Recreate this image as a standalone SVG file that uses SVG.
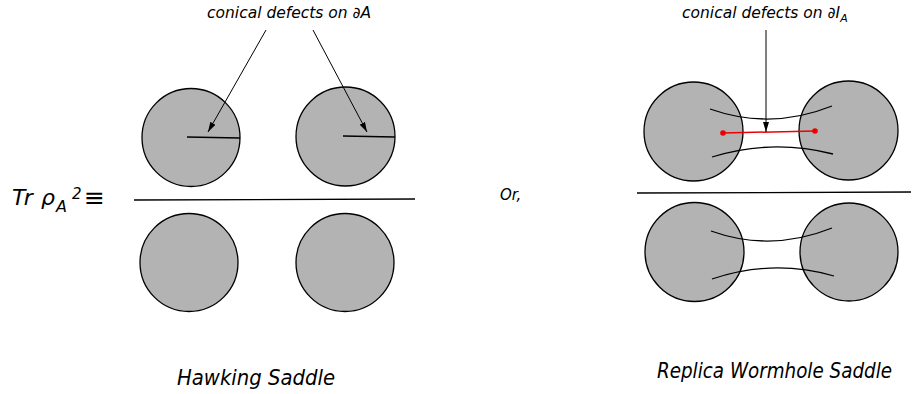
<svg xmlns="http://www.w3.org/2000/svg" width="912" height="394" viewBox="0 0 912 394">
<style>
.disk{fill:#b3b3b3;stroke:#000;stroke-width:1.3}
.ln{fill:none;stroke:#000;stroke-width:1.3}
.t{font-family:"DejaVu Sans","Verdana",sans-serif;font-style:italic;fill:#000}
.c{font-family:"DejaVu Sans Condensed","DejaVu Sans",sans-serif;font-stretch:condensed}
.arr{fill:none;stroke:#000;stroke-width:1;marker-end:url(#ah)}
</style>
<defs>
<marker id="ah" viewBox="0 0 10 6" refX="10" refY="3" markerWidth="10" markerHeight="6" markerUnits="userSpaceOnUse" orient="auto">
<path d="M0,0 L10,3 L0,6 Z" fill="#000"/>
</marker>
</defs>
<rect width="912" height="394" fill="#fff"/>

<g id="label-tr">
<text class="t" x="12" y="205" font-size="22">Tr <tspan x="41">ρ</tspan><tspan x="56" y="212" font-size="16">A</tspan><tspan x="72" y="199" font-size="15">2</tspan><tspan x="84" y="206" font-size="25" font-style="normal">≡</tspan></text>
</g>

<g id="hawking-top-left">
<circle class="disk" cx="191" cy="137.5" r="49"/>
<line class="ln" x1="187" y1="137" x2="240" y2="138"/>
</g>
<g id="hawking-top-right">
<circle class="disk" cx="345.5" cy="136.5" r="49.5"/>
<line class="ln" x1="343" y1="136" x2="395" y2="137"/>
</g>
<g id="hawking-bottom-left">
<circle class="disk" cx="189" cy="262.5" r="49"/>
</g>
<g id="hawking-bottom-right">
<circle class="disk" cx="345" cy="262.5" r="49"/>
</g>
<g id="hawking-divider">
<line class="ln" x1="134" y1="200" x2="415" y2="199"/>
</g>
<g id="label-hawking-defects">
<text class="t" x="207" y="18" font-size="15.5">conical defects on ∂A</text>
</g>
<g id="label-hawking">
<text class="t c" x="177" y="385" font-size="22" textLength="158" lengthAdjust="spacingAndGlyphs">Hawking Saddle</text>
</g>

<g id="label-or">
<text class="t" x="500" y="200" font-size="15">Or,</text>
</g>

<g id="replica-top">
<circle class="disk" cx="693.5" cy="131.5" r="49.5"/>
<circle class="disk" cx="848.5" cy="130.5" r="49.5"/>
<path class="ln" d="M710,109 Q771,130.5 832,106"/>
<path class="ln" d="M712,157 Q772,138.5 833,154"/>
<line x1="723" y1="133" x2="815" y2="131" stroke="#e00" stroke-width="1.5"/>
<circle cx="723" cy="133" r="2.8" fill="#e00"/>
<circle cx="815" cy="131" r="2.8" fill="#e00"/>
</g>
<g id="replica-divider">
<line class="ln" x1="637" y1="193" x2="911" y2="192"/>
</g>
<g id="replica-bottom">
<circle class="disk" cx="694.5" cy="252" r="49.5"/>
<circle class="disk" cx="849" cy="252" r="49"/>
<path class="ln" d="M711,231 Q771,252.5 832,228"/>
<path class="ln" d="M712,279 Q773,258.5 834,276"/>
</g>
<g id="label-replica-defects">
<text class="t" x="682" y="18" font-size="15.5">conical defects on ∂I<tspan font-size="11" dy="4">A</tspan></text>
</g>
<g id="label-replica">
<text class="t c" x="657" y="378" font-size="22" textLength="235" lengthAdjust="spacingAndGlyphs">Replica Wormhole Saddle</text>
</g>

<g id="connectors">
<line class="arr" x1="266" y1="30" x2="208" y2="132"/>
<line class="arr" x1="313" y1="30" x2="367" y2="132"/>
<line class="arr" x1="766" y1="30" x2="766" y2="132"/>
</g>
</svg>
